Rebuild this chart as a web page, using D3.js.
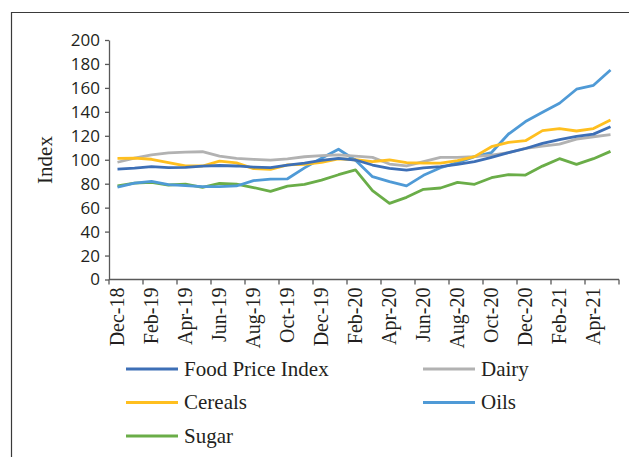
<!DOCTYPE html>
<html>
<head>
<meta charset="utf-8">
<script src="https://cdn.jsdelivr.net/npm/d3@7"></script>
<style>
    body { margin: 0; background: #fff; }
    svg { display: block; }
</style>
</head>
<body>
<div id="chart-area"></div>
<script>

var months = ["Dec-18", "Jan-19", "Feb-19", "Mar-19", "Apr-19", "May-19", "Jun-19", "Jul-19", "Aug-19", "Sep-19",
    "Oct-19", "Nov-19", "Dec-19", "Jan-20", "Feb-20", "Mar-20", "Apr-20", "May-20", "Jun-20", "Jul-20",
    "Aug-20", "Sep-20", "Oct-20", "Nov-20", "Dec-20", "Jan-21", "Feb-21", "Mar-21", "Apr-21", "May-21"];

var foodPriceIndex = [92.2, 93.0, 94.2, 93.4, 93.7, 94.7, 95.2, 94.8, 93.8, 93.4, 95.6, 97.2, 99.4, 101.2, 99.8,
    95.6, 92.8, 91.3, 93.3, 94.2, 96.1, 98.4, 102.0, 105.9, 109.4, 113.6, 116.9, 119.5, 121.4, 127.5];
var dairy = [97.9, 101.4, 104.1, 105.8, 106.3, 106.7, 103.0, 101.2, 100.3, 99.7, 100.8, 102.5, 103.5, 104.0, 103.1,
    102.0, 96.4, 94.8, 98.4, 102.0, 102.0, 102.6, 103.9, 105.9, 109.5, 111.4, 113.1, 117.3, 119.2, 120.9];
var cereals = [101.1, 101.4, 100.4, 97.6, 94.9, 94.8, 98.8, 97.4, 92.6, 92.0, 95.8, 96.1, 97.8, 100.8, 100.0,
    98.4, 99.8, 97.6, 97.1, 97.1, 99.2, 102.6, 110.9, 114.5, 115.9, 124.3, 126.0, 124.0, 126.0, 133.2];
var oils = [77.1, 80.4, 81.9, 79.3, 78.4, 77.6, 77.6, 78.1, 82.6, 83.9, 84.1, 93.2, 101.2, 108.8, 99.6,
    85.9, 81.7, 78.2, 87.0, 93.3, 97.6, 102.6, 106.0, 121.5, 131.9, 139.6, 147.2, 158.9, 162.2, 175.0];
var sugar = [78.1, 80.4, 81.1, 78.9, 79.6, 77.0, 80.2, 79.6, 76.8, 73.6, 78.0, 79.4, 83.0, 87.5, 91.6,
    74.2, 63.6, 68.6, 75.3, 76.4, 81.1, 79.5, 85.0, 87.5, 87.2, 94.7, 100.9, 96.1, 100.9, 107.0];

var yTicks = [0, 20, 40, 60, 80, 100, 120, 140, 160, 180, 200];

// drawing order: last one ends up on top
var series = [
    { name: "Sugar", values: sugar, color: "#6aad48" },
    { name: "Oils", values: oils, color: "#4f9ad6" },
    { name: "Dairy", values: dairy, color: "#b2b2b2" },
    { name: "Cereals", values: cereals, color: "#ffbf1f" },
    { name: "Food Price Index", values: foodPriceIndex, color: "#3d6fb6" }
];
var legendOrder = ["Food Price Index", "Dairy", "Cereals", "Oils", "Sugar"];

var serif = "'Liberation Serif', 'Times New Roman', serif";
var sans = "'Open Sans', 'Noto Sans', sans-serif";
var ink = "#231f20";

var margin = { left: 109, right: 10, top: 40, bottom: 177.5 };
var width = 629 - margin.left - margin.right;
var height = 457 - margin.top - margin.bottom;

var svg = d3.select("#chart-area")
    .append("svg")
    .attr("width", 629)
    .attr("height", 457);

// frame (only top and left edges are visible in the crop)
svg.append("line")
    .attr("x1", 11).attr("x2", 629)
    .attr("y1", 12.5).attr("y2", 12.5)
    .attr("stroke", "#3a3a3a").attr("stroke-width", 1.2);
svg.append("line")
    .attr("x1", 11.5).attr("x2", 11.5)
    .attr("y1", 12).attr("y2", 457)
    .attr("stroke", "#3a3a3a").attr("stroke-width", 1.2);

var g = svg.append("g")
    .attr("transform", "translate(" + margin.left + "," + margin.top + ")");

var x = d3.scaleBand().domain(months).range([0, width]).padding(0);
var y = d3.scaleLinear().domain([0, 200]).range([height, 0]);

// Y axis
var yAxis = g.append("g")
    .call(d3.axisLeft(y).tickValues(yTicks).tickSize(4).tickPadding(5).tickSizeOuter(0));
yAxis.select(".domain").attr("stroke", "#595959").attr("stroke-width", 1.3);
yAxis.selectAll(".tick line").attr("stroke", "#595959").attr("stroke-width", 1.3);
yAxis.selectAll(".tick text")
    .attr("font-family", sans)
    .attr("font-size", "17px")
    .attr("fill", ink);

// X axis: labels every other month, ticks on category boundaries
var labelMonths = months.filter(function(d, i) { return i % 2 === 0; });
var xAxis = g.append("g")
    .attr("transform", "translate(0," + height + ")")
    .call(d3.axisBottom(x).tickValues(labelMonths).tickSize(0).tickSizeOuter(0));
xAxis.select(".domain").remove();
xAxis.selectAll(".tick text")
    .attr("font-family", serif)
    .attr("font-size", "20px")
    .attr("fill", ink)
    .attr("text-anchor", "end")
    .attr("transform", "rotate(-90)")
    .attr("x", -8)
    .attr("y", 0)
    .attr("dy", "0.33em");

var tickPos = labelMonths.map(function(m) { return x(m); }).concat([width]);
g.append("line")
    .attr("x1", 0).attr("x2", width)
    .attr("y1", height).attr("y2", height)
    .attr("stroke", "#595959").attr("stroke-width", 1.3);
g.selectAll(".x-tick")
    .data(tickPos)
    .enter().append("line")
    .attr("class", "x-tick")
    .attr("x1", function(d) { return d; })
    .attr("x2", function(d) { return d; })
    .attr("y1", height)
    .attr("y2", height + 5)
    .attr("stroke", "#595959").attr("stroke-width", 1.3);

// Y label
g.append("text")
    .attr("transform", "translate(" + (52 - margin.left) + "," + (160 - margin.top) + ") rotate(-90)")
    .attr("text-anchor", "middle")
    .attr("font-family", serif)
    .attr("font-size", "21px")
    .attr("fill", ink)
    .text("Index");

// lines
var line = d3.line()
    .x(function(d, i) { return x(months[i]) + x.bandwidth() / 2; })
    .y(function(d) { return y(d); });

g.selectAll(".series")
    .data(series)
    .enter().append("path")
    .attr("class", "series")
    .attr("d", function(d) { return line(d.values); })
    .attr("fill", "none")
    .attr("stroke", function(d) { return d.color; })
    .attr("stroke-width", 2.8)
    .attr("stroke-linejoin", "round");

// legend
var legend = svg.append("g");
legendOrder.forEach(function(name, i) {
    var s = series.find(function(d) { return d.name === name; });
    var col = i % 2, row = Math.floor(i / 2);
    var lx = col === 0 ? 126 : 423;
    var ly = 369 + row * 33.5;
    legend.append("line")
        .attr("x1", lx).attr("x2", lx + 52)
        .attr("y1", ly).attr("y2", ly)
        .attr("stroke", s.color)
        .attr("stroke-width", 2.8);
    legend.append("text")
        .attr("x", lx + 58)
        .attr("y", ly)
        .attr("dy", "0.33em")
        .attr("font-family", serif)
        .attr("font-size", "21px")
        .attr("fill", ink)
        .text(name);
});

</script>
</body>
</html>
